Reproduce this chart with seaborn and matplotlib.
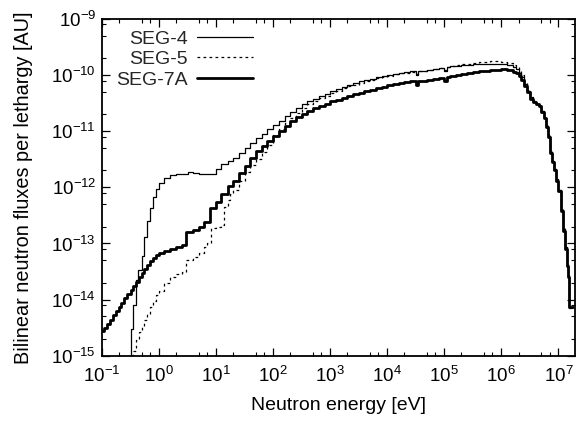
import numpy as np
import pandas as pd
import matplotlib
matplotlib.use("Agg")
import matplotlib.pyplot as plt
import matplotlib.ticker as mticker
import seaborn as sns

# ---- data ----
seg7a_energy = [0.1, 0.11, 0.125, 0.14, 0.16, 0.18, 0.2, 0.22, 0.25, 0.28, 0.32, 0.36, 0.4, 0.45, 0.5, 0.56, 0.63, 0.71, 0.8, 0.9,
                1.0, 1.25, 1.6, 2.0, 2.5, 3.0, 4.0, 5.0, 6.3, 8.0,
                10, 12.5, 16, 20, 25, 32, 40, 50, 63, 80,
                100, 125, 160, 200, 250, 320, 400, 500, 630, 800,
                1e3, 1.25e3, 1.6e3, 2e3, 2.5e3, 3.2e3, 4e3, 5e3, 6.3e3, 8e3,
                1e4, 1.25e4, 1.6e4, 2e4, 2.5e4, 3.2e4, 3.5e4, 4e4, 5e4, 6.3e4, 8e4,
                1e5, 1.1e5, 1.25e5, 1.6e5, 2e5, 2.5e5, 3.2e5, 4e5, 5e5, 6.3e5, 8e5,
                1e6, 1.25e6, 1.6e6, 1.8e6, 2e6, 2.2e6, 2.5e6, 2.8e6, 3.2e6, 3.6e6, 4e6, 4.5e6, 5e6, 5.5e6,
                6e6, 6.6e6, 7.1e6, 7.6e6, 8.2e6, 9e6, 1e7, 1.1e7, 1.2e7, 1.3e7, 1.4e7, 1.48e7, 1.55e7, 1.8e7]
seg7a_flux = [2.7e-15, 3.1e-15, 3.7e-15, 4.4e-15, 5.3e-15, 6.3e-15, 7.5e-15, 8.7e-15, 1.05e-14, 1.25e-14, 1.5e-14, 1.75e-14, 2.05e-14, 2.5e-14, 2.95e-14, 3.5e-14, 4.2e-14, 4.9e-14, 5.6e-14, 6.2e-14,
              6.7e-14, 7.4e-14, 8.0e-14, 8.7e-14, 9.4e-14, 1.6e-13, 1.75e-13, 1.95e-13, 2.4e-13, 4.3e-13,
              5.5e-13, 7.5e-13, 1.05e-12, 1.3e-12, 1.8e-12, 2.4e-12, 3.3e-12, 4.4e-12, 5.5e-12, 6.8e-12,
              8.3e-12, 1.0e-11, 1.25e-11, 1.5e-11, 1.8e-11, 2.05e-11, 2.3e-11, 2.55e-11, 2.8e-11, 3.1e-11,
              3.4e-11, 3.65e-11, 3.95e-11, 4.25e-11, 4.55e-11, 4.85e-11, 5.15e-11, 5.5e-11, 5.8e-11, 6.2e-11,
              6.6e-11, 7.0e-11, 7.2e-11, 7.5e-11, 7.8e-11, 6.8e-11, 7.9e-11, 8.0e-11, 8.3e-11, 8.6e-11, 8.9e-11,
              8.0e-11, 9.3e-11, 9.6e-11, 1.0e-10, 1.05e-10, 1.1e-10, 1.13e-10, 1.17e-10, 1.2e-10, 1.23e-10, 1.25e-10,
              1.26e-10, 1.23e-10, 1.15e-10, 1.08e-10, 9.5e-11, 8.3e-11, 6.5e-11, 5.0e-11, 3.8e-11, 3.3e-11, 3.0e-11, 2.8e-11, 2.2e-11, 1.7e-11,
              1.2e-11, 8.0e-12, 4.1e-12, 2.8e-12, 2.0e-12, 1.3e-12, 8.5e-13, 3.8e-13, 1.7e-13, 8.0e-14, 4.0e-14, 2.5e-14, 7.4e-15, 7.4e-15]

seg4_energy = [0.30, 0.33, 0.36, 0.40, 0.44, 0.5, 0.56, 0.63, 0.71, 0.8, 0.9,
               1.0, 1.25, 1.6, 2.0, 2.5, 3.2, 4.0, 5.0, 6.3, 8.0,
               10, 12.5, 16, 20, 25, 32, 40, 50, 63, 80,
               100, 125, 160, 200, 250, 320, 400, 500, 630, 800,
               1e3, 1.25e3, 1.6e3, 2e3, 2.5e3, 3.2e3, 4e3, 5e3, 6.3e3, 8e3,
               1e4, 1.25e4, 1.6e4, 2e4, 2.5e4, 3.2e4, 3.5e4, 4e4, 5e4, 6.3e4, 8e4,
               1e5, 1.1e5, 1.25e5, 1.6e5, 2e5, 2.5e5, 3.2e5, 4e5, 5e5, 6.3e5, 8e5,
               1e6, 1.25e6, 1.6e6, 1.8e6, 2e6, 2.2e6, 2.5e6, 2.8e6, 3.2e6, 3.6e6, 4e6, 4.5e6, 5e6, 5.5e6,
               6e6, 6.6e6, 7.1e6, 7.6e6, 8.2e6, 9e6, 1e7, 1.1e7, 1.2e7, 1.3e7, 1.4e7, 1.48e7, 1.55e7, 1.75e7]
seg4_flux = [5e-16, 3e-15, 8e-15, 2.2e-14, 3.3e-14, 6e-14, 1.3e-13, 2.5e-13, 4.2e-13, 6.8e-13, 9.5e-13,
             1.2e-12, 1.45e-12, 1.65e-12, 1.72e-12, 1.75e-12, 1.9e-12, 1.82e-12, 1.75e-12, 1.7e-12, 1.72e-12,
             2.1e-12, 2.6e-12, 3.0e-12, 3.4e-12, 4.1e-12, 5.0e-12, 6.2e-12, 7.5e-12, 9.0e-12, 1.1e-11,
             1.3e-11, 1.55e-11, 1.85e-11, 2.2e-11, 2.6e-11, 3.0e-11, 3.4e-11, 3.8e-11, 4.2e-11, 4.7e-11,
             5.3e-11, 5.7e-11, 6.2e-11, 6.7e-11, 7.2e-11, 7.7e-11, 8.2e-11, 8.7e-11, 9.2e-11, 9.7e-11,
             1.02e-10, 1.06e-10, 1.09e-10, 1.12e-10, 1.16e-10, 1.02e-10, 1.17e-10, 1.2e-10, 1.25e-10, 1.3e-10, 1.33e-10,
             1.2e-10, 1.38e-10, 1.43e-10, 1.48e-10, 1.5e-10, 1.53e-10, 1.56e-10, 1.58e-10, 1.6e-10, 1.6e-10, 1.6e-10,
             1.57e-10, 1.5e-10, 1.38e-10, 1.28e-10, 1.1e-10, 9.2e-11, 7.0e-11, 5.2e-11, 3.9e-11, 3.35e-11, 3.05e-11, 2.85e-11, 2.25e-11, 1.75e-11,
             1.25e-11, 8.2e-12, 4.3e-12, 2.9e-12, 2.1e-12, 1.35e-12, 8.8e-13, 4.0e-13, 1.8e-13, 8.5e-14, 4.2e-14, 2.6e-14, 7.0e-15, 7.0e-15]

seg5_energy = [0.32, 0.35, 0.4, 0.45, 0.5, 0.56, 0.63, 0.71, 0.8, 0.9,
               1.0, 1.25, 1.6, 2.0, 2.5, 3.0, 4.0, 5.0, 6.3, 7.1, 8.3,
               10, 12.5, 14, 16, 18, 20, 25, 32, 40, 50, 63, 80,
               100, 125, 160, 200, 250, 320, 400, 500, 630, 800,
               1e3, 1.25e3, 1.6e3, 2e3, 2.5e3, 3.2e3, 4e3, 5e3, 6.3e3, 8e3,
               1e4, 1.25e4, 1.6e4, 2e4, 2.5e4, 3.2e4, 3.5e4, 4e4, 5e4, 6.3e4, 8e4,
               1e5, 1.1e5, 1.25e5, 1.6e5, 2e5, 2.5e5, 3.2e5, 4e5, 5e5, 6.3e5, 8e5,
               1e6, 1.25e6, 1.6e6, 1.8e6, 2e6, 2.2e6, 2.5e6, 2.8e6, 3.2e6, 3.6e6, 4e6, 4.5e6, 5e6, 5.5e6,
               6e6, 6.6e6, 7.1e6, 7.6e6, 8.2e6, 9e6, 1e7, 1.1e7, 1.2e7, 1.3e7, 1.4e7, 1.48e7, 1.55e7, 1.75e7]
seg5_flux = [5e-16, 1.2e-15, 1.9e-15, 2.6e-15, 3.4e-15, 4.3e-15, 5.6e-15, 7.5e-15, 9.5e-15, 1.2e-14,
             1.45e-14, 2.0e-14, 2.5e-14, 2.8e-14, 3.1e-14, 5.0e-14, 5.7e-14, 6.8e-14, 8.5e-14, 1.0e-13, 1.85e-13,
             2.0e-13, 2.1e-13, 4.5e-13, 6.0e-13, 7.5e-13, 9.0e-13, 1.3e-12, 1.85e-12, 2.5e-12, 3.2e-12, 4.2e-12, 5.6e-12,
             8.5e-12, 1.1e-11, 1.4e-11, 1.75e-11, 2.15e-11, 2.6e-11, 3.0e-11, 3.4e-11, 3.85e-11, 4.3e-11,
             4.8e-11, 5.3e-11, 5.8e-11, 6.3e-11, 6.8e-11, 7.3e-11, 7.8e-11, 8.3e-11, 8.8e-11, 9.3e-11,
             9.8e-11, 1.03e-10, 1.07e-10, 1.11e-10, 1.15e-10, 1.03e-10, 1.17e-10, 1.2e-10, 1.25e-10, 1.3e-10, 1.34e-10,
             1.22e-10, 1.4e-10, 1.45e-10, 1.52e-10, 1.56e-10, 1.6e-10, 1.64e-10, 1.68e-10, 1.72e-10, 1.75e-10, 1.76e-10,
             1.74e-10, 1.66e-10, 1.52e-10, 1.4e-10, 1.22e-10, 1.0e-10, 7.5e-11, 5.4e-11, 4.0e-11, 3.4e-11, 3.1e-11, 2.9e-11, 2.3e-11, 1.8e-11,
             1.3e-11, 8.4e-12, 4.4e-12, 3.0e-12, 2.15e-12, 1.4e-12, 9.0e-13, 4.1e-13, 1.85e-13, 8.8e-14, 4.3e-14, 2.7e-14, 7.2e-15, 7.2e-15]

series_names = ["SEG-4", "SEG-5", "SEG-7A"]
x_tick_values = [1e-1, 1e0, 1e1, 1e2, 1e3, 1e4, 1e5, 1e6, 1e7]
y_tick_values = [1e-15, 1e-14, 1e-13, 1e-12, 1e-11, 1e-10, 1e-9]

# ---- styling ----
sns.set_theme(style="ticks")
plt.rcParams["font.family"] = ["Liberation Sans", "DejaVu Sans"]
plt.rcParams["mathtext.default"] = "regular"

fig = plt.figure(figsize=(5.77, 4.25), dpi=100)
ax = fig.add_axes([0.1763, 0.1631, 0.8202, 0.7922])
ax.set_xscale("log")
ax.set_yscale("log")

frames = {
    "SEG-4": pd.DataFrame({"energy": seg4_energy, "flux": seg4_flux}),
    "SEG-5": pd.DataFrame({"energy": seg5_energy, "flux": seg5_flux}),
    "SEG-7A": pd.DataFrame({"energy": seg7a_energy, "flux": seg7a_flux}),
}
styles = {
    "SEG-4": dict(linewidth=0.9, linestyle="-"),
    "SEG-5": dict(linewidth=0.9, linestyle=(0, (2.2, 2.6))),
    "SEG-7A": dict(linewidth=2.0, linestyle="-"),
}
for name in series_names:
    sns.lineplot(data=frames[name], x="energy", y="flux", ax=ax, color="black",
                 estimator=None, drawstyle="steps-post", label=name,
                 **styles[name])

ax.set_xlim(1e-1, 1.95e7)
ax.set_ylim(1e-15, 1e-9)
ax.xaxis.set_major_locator(mticker.FixedLocator(x_tick_values))
ax.yaxis.set_major_locator(mticker.FixedLocator(y_tick_values))
ax.xaxis.set_major_formatter(mticker.LogFormatterSciNotation())
ax.yaxis.set_major_formatter(mticker.LogFormatterSciNotation())
ax.xaxis.set_minor_locator(mticker.LogLocator(base=10, subs=[2, 5, 7], numticks=50))
ax.yaxis.set_minor_locator(mticker.LogLocator(base=10, subs=[2, 5, 8], numticks=50))
ax.xaxis.set_minor_formatter(mticker.NullFormatter())
ax.yaxis.set_minor_formatter(mticker.NullFormatter())

ax.tick_params(which="both", direction="in", top=True, right=True, color="black")
ax.tick_params(which="major", length=6, width=0.9, labelsize=13.5, colors="black")
ax.tick_params(axis="x", which="major", pad=7)
ax.tick_params(axis="y", which="major", pad=4)
ax.tick_params(which="minor", length=3, width=0.8)
for sp in ax.spines.values():
    sp.set_linewidth(1.3)
    sp.set_color("black")

ax.set_xlabel("Neutron energy [eV]", fontsize=14, color="black", labelpad=8)
ax.set_ylabel("Bilinear neutron fluxes per lethargy [AU]", fontsize=14.3, color="black", labelpad=13)

leg = ax.legend(loc="upper left", bbox_to_anchor=(0.014, 0.99), frameon=False,
                markerfirst=False, fontsize=14, handlelength=2.83, handletextpad=0.5,
                labelspacing=0.15, borderaxespad=0)

fig.savefig("out.png", dpi=100)
